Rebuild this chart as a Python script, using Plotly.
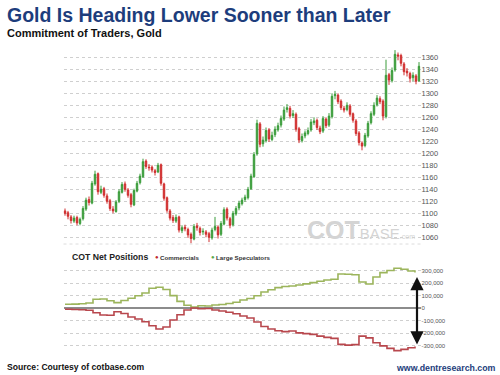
import plotly.graph_objects as go

# ---------------- data ----------------
opens = [1104, 1101, 1094, 1087, 1093, 1083, 1091, 1107, 1123, 1117,
         1149, 1166, 1135, 1141, 1129, 1121, 1107, 1103, 1120, 1135,
         1149, 1139, 1131, 1114, 1137, 1151, 1161, 1187, 1177, 1177,
         1171, 1169, 1181, 1149, 1126, 1104, 1093, 1087, 1094, 1071,
         1077, 1073, 1065, 1057, 1079, 1075, 1069, 1069, 1066, 1059,
         1073, 1077, 1065, 1082, 1107, 1091, 1081, 1099, 1109, 1116,
         1123, 1126, 1141, 1161, 1199, 1249, 1216, 1221, 1239, 1223,
         1231, 1239, 1247, 1257, 1273, 1275, 1263, 1265, 1241, 1221,
         1229, 1233, 1239, 1251, 1255, 1242, 1237, 1257, 1247, 1261,
         1296, 1297, 1287, 1275, 1273, 1279, 1266, 1254, 1234, 1217,
         1213, 1229, 1251, 1265, 1281, 1291, 1287, 1261, 1331, 1321,
         1339, 1364, 1363, 1349, 1337, 1333, 1326, 1329, 1321]
highs = [1108, 1104, 1097, 1096, 1096, 1093, 1112, 1126, 1128, 1154,
         1171, 1168, 1146, 1144, 1133, 1124, 1112, 1122, 1140, 1152,
         1153, 1142, 1134, 1141, 1154, 1166, 1191, 1190, 1182, 1180,
         1174, 1184, 1183, 1151, 1128, 1107, 1097, 1098, 1096, 1080,
         1081, 1076, 1068, 1082, 1084, 1078, 1075, 1072, 1069, 1076,
         1094, 1080, 1087, 1110, 1110, 1094, 1104, 1112, 1121, 1126,
         1131, 1144, 1166, 1202, 1256, 1252, 1228, 1243, 1242, 1236,
         1245, 1251, 1263, 1278, 1282, 1279, 1272, 1268, 1244, 1233,
         1238, 1243, 1257, 1260, 1258, 1246, 1262, 1260, 1267, 1300,
         1304, 1300, 1290, 1279, 1285, 1282, 1268, 1257, 1237, 1220,
         1234, 1254, 1270, 1285, 1297, 1295, 1290, 1356, 1334, 1343,
         1372, 1368, 1366, 1352, 1342, 1336, 1335, 1332, 1352]
lows = [1096, 1090, 1083, 1084, 1080, 1080, 1088, 1104, 1113, 1115,
        1146, 1131, 1132, 1126, 1116, 1104, 1100, 1101, 1117, 1133,
        1136, 1126, 1110, 1112, 1135, 1148, 1159, 1174, 1171, 1168,
        1163, 1167, 1146, 1121, 1101, 1088, 1084, 1084, 1068, 1067,
        1070, 1059, 1050, 1055, 1071, 1063, 1064, 1060, 1052, 1056,
        1070, 1058, 1062, 1080, 1088, 1075, 1078, 1096, 1105, 1113,
        1119, 1123, 1139, 1159, 1196, 1210, 1211, 1218, 1219, 1220,
        1227, 1236, 1243, 1254, 1268, 1258, 1259, 1236, 1217, 1218,
        1225, 1230, 1236, 1247, 1239, 1232, 1234, 1242, 1244, 1258,
        1290, 1282, 1272, 1268, 1270, 1261, 1251, 1229, 1213, 1205,
        1210, 1226, 1248, 1262, 1278, 1282, 1255, 1258, 1314, 1318,
        1336, 1355, 1345, 1330, 1328, 1318, 1320, 1315, 1319]
closes = [1100, 1095, 1088, 1092, 1084, 1090, 1108, 1122, 1118, 1150,
          1165, 1136, 1140, 1130, 1120, 1108, 1104, 1119, 1136, 1148,
          1140, 1130, 1115, 1138, 1150, 1162, 1186, 1178, 1176, 1172,
          1168, 1180, 1150, 1125, 1105, 1092, 1088, 1093, 1072, 1076,
          1074, 1064, 1058, 1078, 1076, 1068, 1070, 1065, 1060, 1072,
          1078, 1064, 1083, 1106, 1092, 1080, 1100, 1108, 1117, 1122,
          1127, 1140, 1162, 1198, 1250, 1215, 1222, 1238, 1224, 1230,
          1240, 1246, 1258, 1272, 1276, 1262, 1266, 1240, 1222, 1228,
          1234, 1238, 1252, 1254, 1243, 1236, 1258, 1246, 1262, 1295,
          1298, 1286, 1276, 1272, 1280, 1265, 1255, 1233, 1218, 1212,
          1230, 1250, 1266, 1280, 1292, 1286, 1262, 1330, 1322, 1338,
          1365, 1362, 1350, 1336, 1334, 1325, 1330, 1320, 1345]

large_speculators = [32000, 33000, 36000, 42000, 72000, 74000, 60000, 45000, 62000, 80000,
                     100000, 122000, 160000, 168000, 150000, 101000, 55000, 24000, 10000, 20000,
                     18000, 26000, 30000, 38000, 48000, 66000, 78000, 100000, 130000, 148000,
                     165000, 174000, 178000, 186000, 195000, 205000, 216000, 226000, 232000, 274000,
                     272000, 268000, 210000, 194000, 250000, 285000, 302000, 320000, 312000, 298000,
                     286000]
commercials = [-8000, -9000, -12000, -15000, -36000, -54000, -55000, -28000, -42000, -70000,
               -85000, -108000, -140000, -165000, -150000, -94000, -52000, -14000, 2000, -4000,
               -2000, -14000, -22000, -32000, -44000, -62000, -78000, -110000, -145000, -165000,
               -180000, -186000, -182000, -196000, -202000, -208000, -222000, -232000, -240000, -288000,
               -294000, -290000, -222000, -236000, -275000, -300000, -320000, -338000, -328000, -315000,
               -306000]

price_ticks = [1060, 1080, 1100, 1120, 1140, 1160, 1180, 1200, 1220, 1240,
               1260, 1280, 1300, 1320, 1340, 1360]
cot_ticks = [-300000, -200000, -100000, 0, 100000, 200000, 300000]
cot_tick_labels = ["-300,000", "-200,000", "-100,000", "0", "100,000", "200,000", "300,000"]

title_text = "Gold Is Heading Lower Sooner than Later"
subtitle_text = "Commitment of Traders, Gold"
source_text = "Source: Courtesy of cotbase.com"
site_text = "www.dentresearch.com"

# ---------------- layout helpers ----------------
W, H = 500.0, 375.0
def fx(p):
    return p / W
def fy(p):
    return 1 - p / H

FONT = "Liberation Sans, Arial, sans-serif"
GREEN = "#3a9c3a"
RED = "#d02e2e"

candle_x = list(range(len(closes)))
week_x = list(range(len(commercials)))

fig = go.Figure()
fig.add_trace(go.Candlestick(
    x=candle_x, open=opens, high=highs, low=lows, close=closes,
    increasing=dict(line=dict(color=GREEN, width=1), fillcolor=GREEN),
    decreasing=dict(line=dict(color=RED, width=1), fillcolor=RED),
    whiskerwidth=0, xaxis="x", yaxis="y", showlegend=False, hoverinfo="skip"))

fig.add_trace(go.Scatter(x=week_x, y=large_speculators, mode="lines",
                         line=dict(color="#9cb55c", width=1.6, shape="hv"),
                         xaxis="x2", yaxis="y2", showlegend=False, hoverinfo="skip"))
fig.add_trace(go.Scatter(x=week_x, y=commercials, mode="lines",
                         line=dict(color="#b8474d", width=1.6, shape="hv"),
                         xaxis="x2", yaxis="y2", showlegend=False, hoverinfo="skip"))

xdom = [fx(63.5), fx(420.5)]
fig.update_layout(
    width=500, height=375, margin=dict(l=0, r=0, t=0, b=0),
    paper_bgcolor="white", plot_bgcolor="white",
    font=dict(family=FONT), hovermode=False,
    xaxis=dict(domain=xdom, range=[-0.5, len(closes) - 0.5], anchor="y",
               showticklabels=False, showgrid=False, zeroline=False,
               rangeslider=dict(visible=False), fixedrange=True),
    yaxis=dict(domain=[fy(248.1), fy(45.3)], range=[1042, 1380], side="right",
               anchor="x", tickvals=price_ticks, showgrid=True, gridcolor="#cfcfcf",
               griddash="dot", gridwidth=1, zeroline=False, ticks="",
               tickfont=dict(size=7.5, color="#555"), showline=False),
    xaxis2=dict(domain=xdom, range=[-0.214, 50.79], anchor="y2",
                showticklabels=False, showgrid=False, zeroline=False),
    yaxis2=dict(domain=[fy(354.6), fy(262)], range=[-370000, 370000], side="right",
                anchor="x2", tickvals=cot_ticks, ticktext=cot_tick_labels,
                showgrid=True, gridcolor="#cfcfcf", griddash="dot", gridwidth=1,
                zeroline=True, zerolinecolor="#8c8c8c", zerolinewidth=2, ticks="",
                tickfont=dict(size=6, color="#555")),
)

ann = []
ann.append(dict(x=fx(5), y=fy(15), xref="paper", yref="paper", xanchor="left", yanchor="middle",
                text="<b>" + title_text + "</b>", showarrow=False,
                font=dict(size=19.5, color="#1d3d7c", family=FONT)))
ann.append(dict(x=fx(5), y=fy(33), xref="paper", yref="paper", xanchor="left", yanchor="middle",
                text="<b>" + subtitle_text + "</b>", showarrow=False,
                font=dict(size=11, color="#111", family=FONT)))
ann.append(dict(x=fx(5), y=fy(367), xref="paper", yref="paper", xanchor="left", yanchor="middle",
                text="<b>" + source_text + "</b>", showarrow=False,
                font=dict(size=8.6, color="#111", family=FONT)))
ann.append(dict(x=fx(498), y=fy(368), xref="paper", yref="paper", xanchor="right", yanchor="middle",
                text="<b>" + site_text + "</b>", showarrow=False,
                font=dict(size=8.8, color="#1d3d7c", family=FONT)))
# watermark
ann.append(dict(x=fx(417), y=fy(230), xref="paper", yref="paper", xanchor="right", yanchor="middle",
                text="<b>COT</b><span style='font-size:15px'>BASE</span><span style='font-size:7px'>.com</span>",
                showarrow=False, font=dict(size=25, color="#d4d4d4", family=FONT)))
# lower legend
ann.append(dict(x=fx(70), y=fy(257), xref="paper", yref="paper", xanchor="left", yanchor="middle",
                text="<b>COT Net Positions</b>", showarrow=False,
                font=dict(size=8.7, color="#222", family=FONT)))
ann.append(dict(x=fx(153), y=fy(257), xref="paper", yref="paper", xanchor="left", yanchor="middle",
                text="●", showarrow=False, font=dict(size=6, color="#c0282e", family=FONT)))
ann.append(dict(x=fx(158), y=fy(257.5), xref="paper", yref="paper", xanchor="left", yanchor="middle",
                text="<b>Commercials</b>", showarrow=False, font=dict(size=6.2, color="#333", family=FONT)))
ann.append(dict(x=fx(209), y=fy(257), xref="paper", yref="paper", xanchor="left", yanchor="middle",
                text="●", showarrow=False, font=dict(size=6, color="#5aa84a", family=FONT)))
ann.append(dict(x=fx(214), y=fy(257.5), xref="paper", yref="paper", xanchor="left", yanchor="middle",
                text="<b>Large Speculators</b>", showarrow=False, font=dict(size=6.2, color="#333", family=FONT)))
# double arrow
ann.append(dict(x=fx(417), y=fy(277), xref="paper", yref="paper", ax=0, ay=69,
                text="", showarrow=True, arrowhead=2, startarrowhead=2, arrowside="end+start",
                arrowsize=1.2, startarrowsize=1.2, arrowwidth=2.2, arrowcolor="#111"))
fig.update_layout(annotations=ann)

fig.add_shape(type="line", xref="paper", yref="paper", x0=fx(63.5), x1=fx(420.5),
              y0=fy(244), y1=fy(244), line=dict(color="#dcdcdc", width=1, dash="dot"))

fig.write_html("out.html", config={"displayModeBar": False, "staticPlot": True},
               post_script="document.body.style.margin='0px';document.body.style.overflow='hidden';")
